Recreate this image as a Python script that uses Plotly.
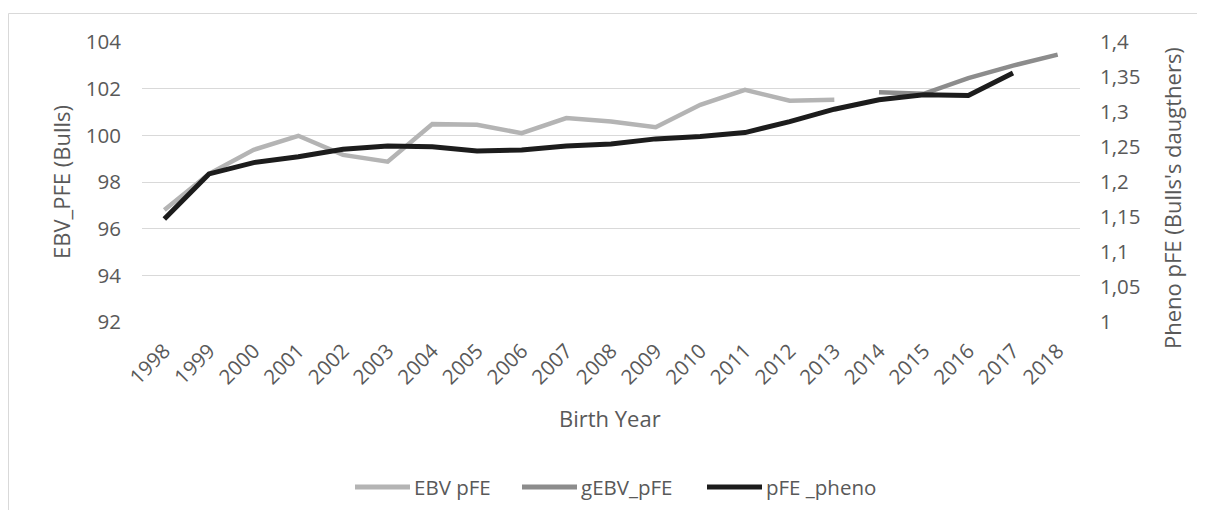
import plotly.graph_objects as go

years = [str(y) for y in range(1998, 2019)]

ebv_pfe = [96.80, 98.35, 99.38, 99.98, 99.16, 98.87, 100.48, 100.45, 100.09, 100.74,
           100.59, 100.35, 101.31, 101.95, 101.48, 101.52, None, None, None, None, None]
gebv_pfe = [None] * 16 + [101.85, 101.78, 102.45, 102.99, 103.46]
pfe_pheno = [1.147, 1.2115, 1.2277, 1.2362, 1.2468, 1.2515, 1.2505, 1.2444, 1.2458, 1.2515,
             1.2544, 1.2616, 1.2649, 1.2706, 1.2863, 1.3040, 1.3175, 1.3245, 1.3236, 1.3556, None]

left_ticks = [92, 94, 96, 98, 100, 102, 104]
right_ticks = [1, 1.05, 1.1, 1.15, 1.2, 1.25, 1.3, 1.35, 1.4]
right_labels = [("%g" % v).replace(".", ",") for v in right_ticks]

series_names = ["EBV pFE", "gEBV_pFE", "pFE _pheno"]
series_colors = ["#b4b4b4", "#8c8c8c", "#1c1c1c"]

FONT = "Open Sans"
TXT = "#595959"
TICK = 20.5

fig = go.Figure()
fig.add_trace(go.Scatter(x=years, y=ebv_pfe, name=series_names[0], mode="lines",
                         line=dict(color=series_colors[0], width=4.5), yaxis="y"))
fig.add_trace(go.Scatter(x=years, y=gebv_pfe, name=series_names[1], mode="lines",
                         line=dict(color=series_colors[1], width=4.5), yaxis="y"))
fig.add_trace(go.Scatter(x=years, y=pfe_pheno, name=series_names[2], mode="lines",
                         line=dict(color=series_colors[2], width=5), yaxis="y2"))

# page body has an 8px margin; work in screenshot pixels and convert
OFF = 8
W, H = 1205 - 2 * OFF, 518 - 2 * OFF
ml, mt = 142 - OFF, 34
mr = W - (1080 - OFF)
mb = H - (322 - OFF)
pw, ph = W - ml - mr, H - mt - mb


def px(x):
    return (x - OFF - ml) / pw


def py(y):
    return (H - mb - (y - OFF)) / ph


border = dict(color="#d9d9d9", width=1)
shapes = [
    dict(type="line", xref="paper", yref="paper", x0=px(8.5), x1=px(1205 - OFF + 8),
         y0=py(13.5), y1=py(13.5), line=border, layer="below"),
    dict(type="line", xref="paper", yref="paper", x0=px(8.5), x1=px(8.5),
         y0=py(13.5), y1=py(530), line=border, layer="below"),
]
annotations = [
    dict(text="Birth Year", xref="paper", yref="paper", x=px(610), y=py(418),
         showarrow=False, xanchor="center", yanchor="middle",
         font=dict(family=FONT, size=22, color=TXT)),
    dict(text="EBV_PFE (Bulls)", xref="paper", yref="paper", x=px(61), y=py(182),
         showarrow=False, xanchor="center", yanchor="middle", textangle=-90,
         font=dict(family=FONT, size=22, color=TXT)),
    dict(text="Pheno pFE (Bulls's daugthers)", xref="paper", yref="paper",
         x=px(1172), y=py(198), showarrow=False, xanchor="center",
         yanchor="middle", textangle=-90,
         font=dict(family=FONT, size=22, color=TXT)),
]

# manual legend
leg_y = 487
leg_line_x = [(355, 410), (522, 577), (707, 762)]
for (x0, x1), name, col in zip(leg_line_x, series_names, series_colors):
    shapes.append(dict(type="line", xref="paper", yref="paper",
                       x0=px(x0), x1=px(x1), y0=py(leg_y), y1=py(leg_y),
                       line=dict(color=col, width=5)))
    annotations.append(dict(text=name, xref="paper", yref="paper", x=px(x1 + 2),
                            y=py(leg_y), showarrow=False, xanchor="left",
                            yanchor="middle",
                            font=dict(family=FONT, size=TICK, color=TXT)))

fig.update_layout(
    width=W, height=H,
    margin=dict(l=ml, r=mr, t=mt, b=mb, autoexpand=False),
    paper_bgcolor="white", plot_bgcolor="white",
    font=dict(family=FONT, size=TICK, color=TXT),
    showlegend=False,
    xaxis=dict(type="category", categoryorder="array", categoryarray=years,
               range=[-0.5, len(years) - 0.5], tickangle=-45,
               showgrid=False, showline=False, ticks="", zeroline=False,
               ticklabelstandoff=12,
               tickfont=dict(family=FONT, size=TICK, color=TXT)),
    yaxis=dict(range=[92, 104], tickvals=left_ticks, showgrid=True,
               gridcolor="#d9d9d9", gridwidth=1, zeroline=False, showline=False,
               ticks="", tickfont=dict(family=FONT, size=TICK, color=TXT),
               ticklabelstandoff=20),
    yaxis2=dict(range=[1, 1.4], tickvals=right_ticks, ticktext=right_labels,
                overlaying="y", side="right", showgrid=False, zeroline=False,
                showline=False, ticks="", tickfont=dict(family=FONT, size=TICK, color=TXT),
                ticklabelstandoff=19),
    shapes=shapes,
    annotations=annotations,
)

fig.write_html("out.html")
